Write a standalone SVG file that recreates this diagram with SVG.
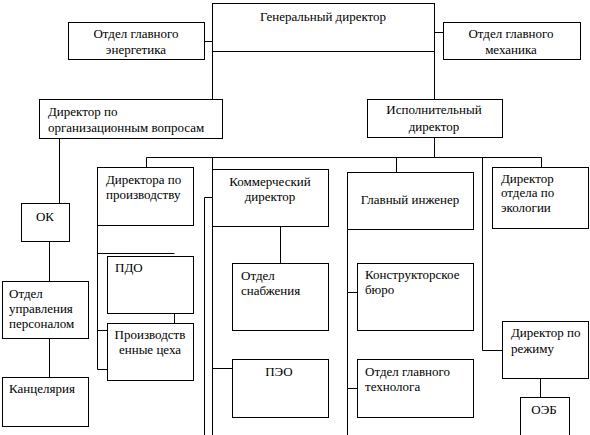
<svg xmlns="http://www.w3.org/2000/svg" width="590" height="435" viewBox="0 0 590 435">
<style>
.b{fill:#fff;stroke:#000;stroke-width:1}
.c{fill:none;stroke:#000;stroke-width:1}
.t text{font-size:13px;fill:#000}
.m{text-anchor:middle}
</style>
<rect width="590" height="435" fill="#fff"/>
<g id="connectors">
<path class="c" d="M212.5,51 V99 M434.5,51 V99 M204,41.5 H212.5 M434.5,32.5 H443"/>
<path class="c" d="M59.5,138 V203 M49.5,241 V281 M49.5,338 V377"/>
<path class="c" d="M434.5,137 V157.5 M146.5,157.5 H541.5 M146.5,157.5 V167 M212.5,157.5 V169 M396.5,157.5 V172 M541.5,157.5 V167"/>
<path class="c" d="M97.5,225 V369.5 H107 M97.5,253.5 H174.5 M97.5,330.5 H107 M174.5,313 V323"/>
<path class="c" d="M280.5,226 V263 M212.5,226 V435 M212.5,368.5 H232 M204.5,435 V197.5 H212.5"/>
<path class="c" d="M347.5,229 V435 M347.5,292.5 H357 M347.5,388.5 H357"/>
<path class="c" d="M482.5,157.5 V350.5 H502 M540.5,378 V397"/>
</g>
<g class="t" font-family="Liberation Serif, Times New Roman, Tinos, serif">
<g id="gen"><rect class="b" x="212.5" y="3.5" width="222" height="48"/><text class="m" x="323" y="21">Генеральный директор</text></g>
<g id="energ"><rect class="b" x="68.5" y="22.5" width="136" height="37"/><text class="m" x="136" y="38">Отдел главного</text><text class="m" x="136" y="54">энергетика</text></g>
<g id="mech"><rect class="b" x="443.5" y="22.5" width="137" height="37"/><text class="m" x="511" y="38">Отдел главного</text><text class="m" x="511" y="54">механика</text></g>
<g id="org"><rect class="b" x="39.5" y="99.5" width="183" height="39"/><text x="48" y="116">Директор по</text><text x="48" y="132">организационным вопросам</text></g>
<g id="exec"><rect class="b" x="367.5" y="99.5" width="135" height="38"/><text class="m" x="434" y="114">Исполнительный</text><text class="m" x="434" y="131">директор</text></g>
<g id="prod"><rect class="b" x="97.5" y="167.5" width="96" height="58"/><text x="106" y="184">Директора по</text><text x="106" y="199">производству</text></g>
<g id="comm"><rect class="b" x="212.5" y="169.5" width="116" height="57"/><text class="m" x="270" y="186">Коммерческий</text><text class="m" x="270" y="201">директор</text></g>
<g id="chief"><rect class="b" x="347.5" y="172.5" width="126" height="57"/><text class="m" x="410" y="204">Главный инженер</text></g>
<g id="eco"><rect class="b" x="492.5" y="167.5" width="96" height="61"/><text x="501" y="183">Директор</text><text x="501" y="197">отдела по</text><text x="501" y="212">экологии</text></g>
<g id="ok"><rect class="b" x="21.5" y="203.5" width="48" height="38"/><text class="m" x="45" y="221">ОК</text></g>
<g id="pdo"><rect class="b" x="107.5" y="256.5" width="86" height="57"/><text x="115" y="272">ПДО</text></g>
<g id="snab"><rect class="b" x="232.5" y="263.5" width="96" height="67"/><text x="241" y="280">Отдел</text><text x="241" y="295">снабжения</text></g>
<g id="kb"><rect class="b" x="357.5" y="263.5" width="116" height="67"/><text x="365" y="279">Конструкторское</text><text x="365" y="294">бюро</text></g>
<g id="hr"><rect class="b" x="2.5" y="281.5" width="86" height="57"/><text x="9" y="298">Отдел</text><text x="9" y="313">управления</text><text x="9" y="328">персоналом</text></g>
<g id="ceh"><rect class="b" x="107.5" y="323.5" width="86" height="57"/><text class="m" x="150" y="339">Производств</text><text class="m" x="150" y="354">енные цеха</text></g>
<g id="rezh"><rect class="b" x="502.5" y="321.5" width="86" height="57"/><text x="511" y="337">Директор по</text><text x="511" y="353">режиму</text></g>
<g id="peo"><rect class="b" x="232.5" y="359.5" width="96" height="58"/><text class="m" x="279" y="376">ПЭО</text></g>
<g id="tech"><rect class="b" x="357.5" y="359.5" width="116" height="58"/><text x="365" y="376">Отдел главного</text><text x="365" y="391">технолога</text></g>
<g id="kanc"><rect class="b" x="2.5" y="377.5" width="86" height="49"/><text x="9" y="393">Канцелярия</text></g>
<g id="oeb"><rect class="b" x="520.5" y="397.5" width="49" height="45"/><text class="m" x="544" y="414">ОЭБ</text></g>
</g>
</svg>
